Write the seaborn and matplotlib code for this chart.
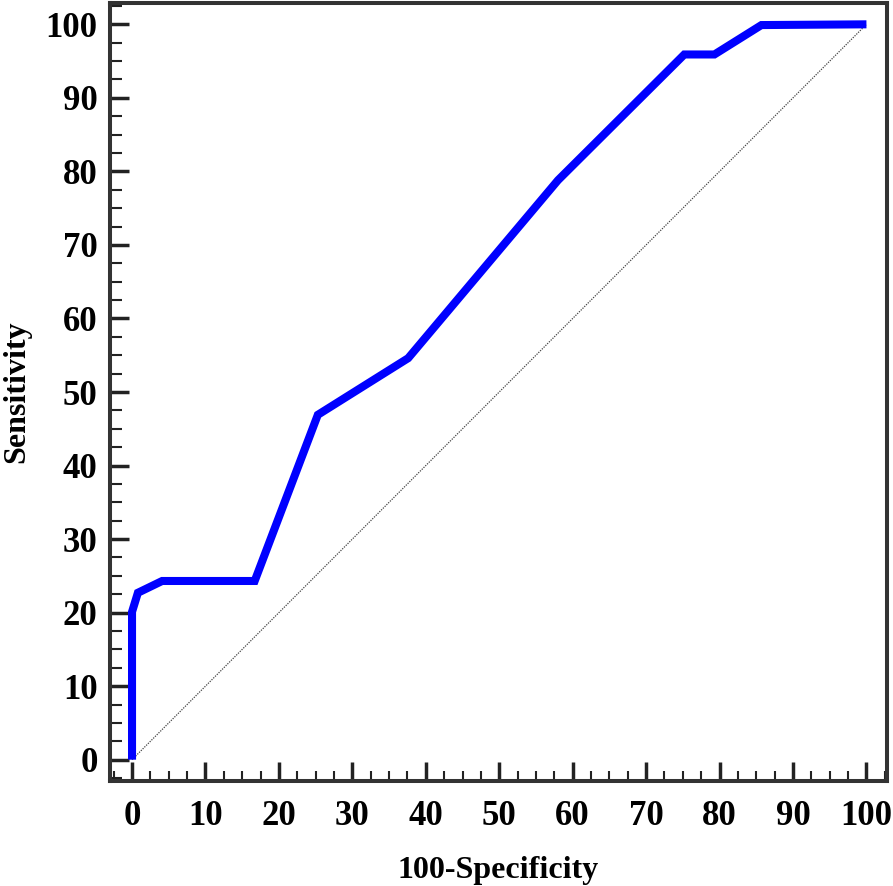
import seaborn as sns
import numpy as np
import matplotlib.pyplot as plt
import pandas as pd
from matplotlib.ticker import MultipleLocator

# ROC curve points
fpr = [0, 0, 0.8, 4.1, 16.7, 25.3, 37.6, 58.0, 75.2, 79.3, 85.7, 100]
tpr = [0, 20.1, 22.7, 24.3, 24.3, 46.9, 54.6, 78.8, 95.9, 95.9, 99.9, 100]
ref_line = [0, 100]

xlabel = "100-Specificity"
ylabel = "Sensitivity"
major_ticks = [0, 10, 20, 30, 40, 50, 60, 70, 80, 90, 100]

sns.set_style("white")
plt.rcParams['font.family'] = ['Liberation Serif', 'DejaVu Serif']
plt.rcParams['font.weight'] = 'bold'

df = pd.DataFrame({'x': fpr, 'y': tpr})
diag = pd.DataFrame({'x': ref_line, 'y': ref_line})

fig = plt.figure(figsize=(8.93, 8.86), dpi=100)
ax = fig.add_axes([110 / 893, 1 - 781 / 886, 777 / 893, 778 / 886])

sns.lineplot(data=diag, x='x', y='y', ax=ax, color='#444444', linewidth=0.9,
             linestyle=(0, (1, 1)), sort=False, estimator=None)
sns.lineplot(data=df, x='x', y='y', ax=ax, color='#0000ff', linewidth=5.8,
             sort=False, estimator=None, solid_joinstyle='miter',
             solid_capstyle='butt')

ax.set_xlim(-3.0, 102.8)
ax.set_ylim(-2.9, 102.9)
ax.set_xticks(major_ticks)
ax.set_yticks(major_ticks)
ax.xaxis.set_minor_locator(MultipleLocator(2.5))
ax.yaxis.set_minor_locator(MultipleLocator(2.5))

for s in ax.spines.values():
    s.set_linewidth(2.9)
    s.set_color('#333333')
    s.set_visible(True)

ax.tick_params(which='major', direction='in', length=13.5, width=2.5,
               color='#222222', labelsize=25, labelcolor='black',
               bottom=True, left=True, top=False, right=False)
ax.tick_params(axis='x', which='major', pad=14)
ax.tick_params(axis='y', which='major', pad=9)
ax.tick_params(axis='x', which='minor', direction='in', length=7, width=1.5,
               color='#222222', bottom=True, top=False)
ax.tick_params(axis='y', which='minor', direction='in', length=8.5, width=1.5,
               color='#222222', left=True, right=False)
for lab in ax.get_xticklabels() + ax.get_yticklabels():
    lab.set_fontweight('bold')

ax.set_xlabel(xlabel, fontsize=23, fontweight='bold', labelpad=16, color='black')
ax.set_ylabel(ylabel, fontsize=23, fontweight='bold', labelpad=10, color='black')
ax.grid(False)

fig.savefig('out.png', dpi=100)
